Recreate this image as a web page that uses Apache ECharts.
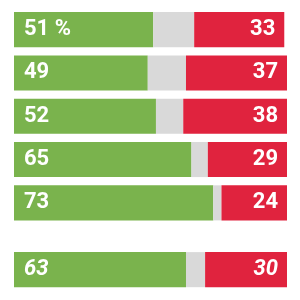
<!DOCTYPE html>
<html>
<head>
<meta charset="utf-8">
<script src="https://cdn.jsdelivr.net/npm/echarts@6/dist/echarts.min.js"></script>
<style>
  html, body { margin: 0; padding: 0; background: #fff; }
  #chart { width: 300px; height: 300px; }
</style>
</head>
<body>
<div id="chart"></div>
<script>
// rows of the top block, then the summary row
var categories = ["r1", "r2", "r3", "r4", "r5"];
var agreeValues = [51, 49, 52, 65, 73];
var neutralValues = [15, 14, 10, 6, 3];
var disagreeValues = [33, 37, 38, 29, 24];

var totalCategory = ["total"];
var totalAgree = [63];
var totalNeutral = [7];
var totalDisagree = [30];

var green = "#7ab34d";
var grey = "#d9d9d9";
var red = "#e0233e";
var font = "Roboto, sans-serif";

function labelOf (pos, italic, withPct) {
  return {
    show: true,
    position: pos,
    distance: pos === "insideLeft" ? 10 : 9,
    color: "#fff",
    fontFamily: font,
    fontWeight: "bold",
    fontStyle: italic ? "italic" : "normal",
    fontSize: 22,
    formatter: function (p) {
      return withPct && p.dataIndex === 0 ? p.value + " %" : p.value;
    }
  };
}

function stackOf (idx, agree, neutral, disagree, italic, withPct) {
  var base = { type: "bar", stack: "s" + idx, xAxisIndex: idx, yAxisIndex: idx, barCategoryGap: "19%", silent: true };
  return [
    Object.assign({}, base, { data: agree, itemStyle: { color: green }, label: labelOf("insideLeft", italic, withPct) }),
    Object.assign({}, base, { data: neutral, itemStyle: { color: grey } }),
    Object.assign({}, base, { data: disagree, itemStyle: { color: red }, label: labelOf("insideRight", italic, false) })
  ];
}

var myChart = echarts.init(document.getElementById("chart"));
var hiddenX = { type: "value", min: 0, max: 100, show: false };
myChart.setOption({
  animation: false,
  grid: [
    { left: 14, right: 13, top: 8, height: 216.5 },
    { left: 14, right: 13, top: 248, height: 43.3 }
  ],
  xAxis: [
    Object.assign({ gridIndex: 0 }, hiddenX),
    Object.assign({ gridIndex: 1 }, hiddenX)
  ],
  yAxis: [
    { type: "category", gridIndex: 0, data: categories, inverse: true, show: false },
    { type: "category", gridIndex: 1, data: totalCategory, show: false }
  ],
  series: stackOf(0, agreeValues, neutralValues, disagreeValues, false, true)
    .concat(stackOf(1, totalAgree, totalNeutral, totalDisagree, true, false))
});
</script>
</body>
</html>
